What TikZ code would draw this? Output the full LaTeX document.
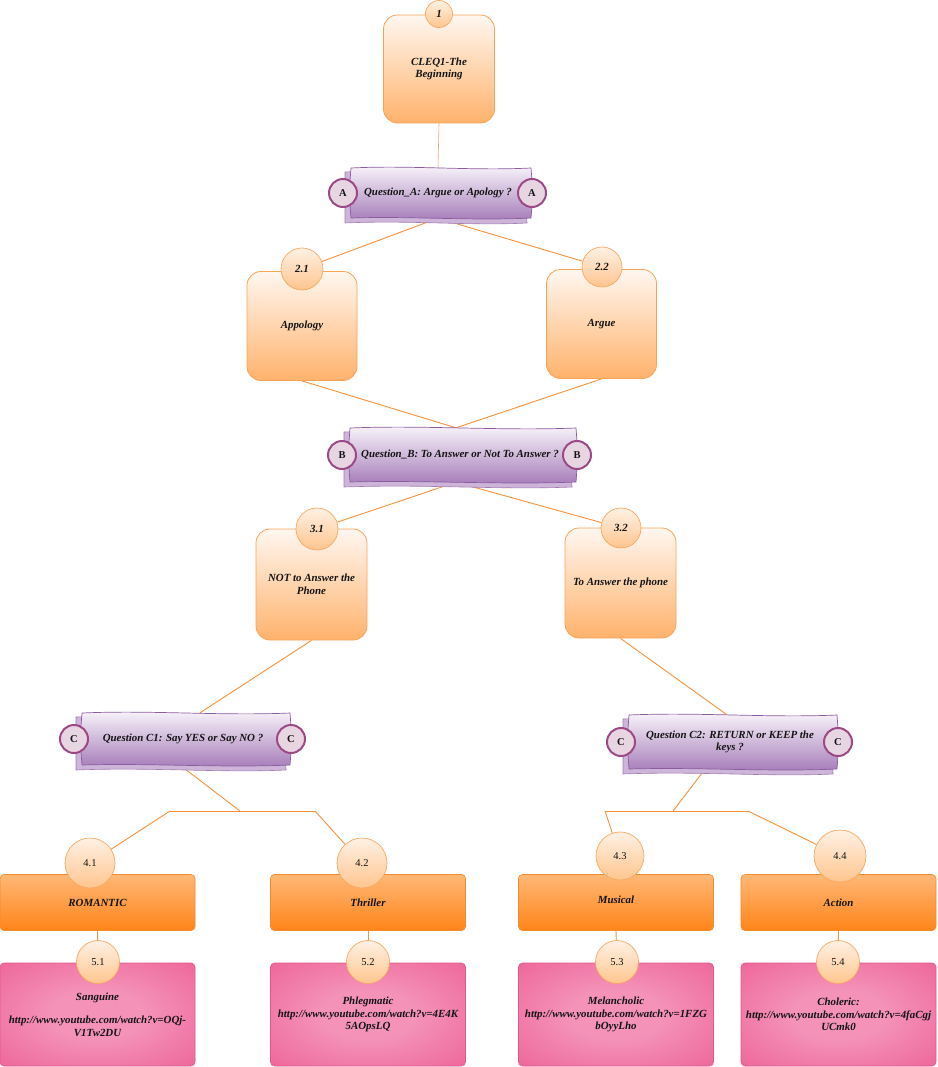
\documentclass[tikz,border=0pt]{standalone}
\usepackage{fontspec}
\setmainfont{Liberation Serif}
\usetikzlibrary{backgrounds}
\definecolor{oline}{HTML}{F7913A}
\definecolor{oline2}{HTML}{E9A878}
\definecolor{obxTop}{HTML}{FFF7F0}
\definecolor{obxBot}{HTML}{FFB26C}
\definecolor{obxDraw}{HTML}{F8A458}
\definecolor{circTop}{HTML}{FFF1E4}
\definecolor{circBot}{HTML}{FFC58E}
\definecolor{circDraw}{HTML}{F7A862}
\definecolor{ribTop}{HTML}{F9F5FB}
\definecolor{ribBot}{HTML}{A57BB8}
\definecolor{ribDraw}{HTML}{8C5CA0}
\definecolor{ribBack}{HTML}{CDB5D9}
\definecolor{lcFill}{HTML}{E8D5E2}
\definecolor{lcDraw}{HTML}{9B4A86}
\definecolor{gTop}{HTML}{FFB877}
\definecolor{gBot}{HTML}{FF8419}
\definecolor{gDraw}{HTML}{F48A2A}
\definecolor{pIn}{HTML}{F492B8}
\definecolor{pOut}{HTML}{E94A86}
\definecolor{pDraw}{HTML}{E2578E}
\definecolor{txt}{HTML}{141414}
\pgfdeclareradialshading{pinkglow}{\pgfpoint{0bp}{0bp}}{color(0bp)=(pIn); color(12bp)=(pIn); color(52bp)=(pOut); color(75bp)=(pOut)}
\newcommand\qribbon[7]{%
 \begin{scope}[shift={(#2,#3)}]
  \path[ribback] ({-#4-6},{-#5+4}) .. controls ({-#4/3},{-#5+1}) and ({#4/3},{-#5+7}) .. ({#4-6},{-#5+4}) -- ({#4-4},{#5+5}) .. controls ({#4/3},{#5+8}) and ({-#4/3},{#5+2}) .. ({-#4-6},{#5+5}) -- cycle;
  \path[ribfront] ({-#4},{-#5}) .. controls ({-#4/3},{-#5-3}) and ({#4/3},{-#5+3}) .. ({#4},{-#5}) .. controls ({#4+2},0) .. ({#4},{#5}) .. controls ({#4/3},{#5+3}) and ({-#4/3},{#5-2}) .. ({-#4},{#5}) .. controls ({-#4-2},0) .. cycle;
 \end{scope}
 \node[qtext, minimum width=2*#4, minimum height=2*#5] (#1) at (#2,#3) {#6};
 \node[lcirc] (#1l) at ({#2-#4-8},#3) {#7};
 \node[lcirc] (#1r) at ({#2+#4+1},#3) {#7};
}
\begin{document}
\begin{tikzpicture}[x=1pt,y=-1pt,
  every node/.style={font=\fontsize{10.9}{12.5}\selectfont\bfseries\itshape, text=txt},
  obox/.style={draw=obxDraw, line width=0.8pt, rounded corners=14pt, top color=obxTop, bottom color=obxBot, align=center, inner sep=2pt},
  ocirc/.style={circle, draw=circDraw, line width=0.7pt, top color=circTop, bottom color=circBot, inner sep=0pt},
  ribback/.style={draw=ribDraw!80, line width=0.6pt, fill=ribBack},
  ribfront/.style={draw=ribDraw, line width=0.7pt, top color=ribTop, bottom color=ribBot},
  qtext/.style={align=center, inner sep=0pt, xshift=-3pt},
  lcirc/.style={circle, draw=lcDraw, line width=2pt, fill=lcFill, minimum size=28pt, inner sep=0pt, font=\fontsize{10.5}{12}\selectfont\bfseries},
  gbox/.style={draw=gDraw, line width=0.6pt, rounded corners=4pt, top color=gTop, bottom color=gBot, minimum width=195pt, minimum height=56pt, inner sep=0pt, align=center},
  pbox/.style={draw=pDraw, line width=0.6pt, rounded corners=4pt, shading=pinkglow, minimum width=195pt, minimum height=103pt, inner sep=0pt, align=center},
  numc/.style={ocirc, font=\fontsize{10.5}{12}\selectfont},
  conn/.style={draw=oline, line width=0.9pt}
]
\useasboundingbox (0,0) rectangle (937,1067);
% level 1
\node[obox, minimum width=111pt, minimum height=108pt] (b1) at (439,69) {CLEQ1-The\\Beginning};
\node[ocirc, minimum size=27pt] (c1) at (439,14) {1};
% question A
\qribbon{qA}{441}{193}{90}{25}{Question\_A: Argue or Apology ?}{A}
% level 2
\node[obox, minimum width=110pt, minimum height=109pt] (b21) at (302,326) {Appology};
\node[ocirc, minimum size=42pt] (c21) at (302,269) {2.1};
\node[obox, minimum width=110pt, minimum height=109pt] (b22) at (601.5,324) {Argue};
\node[ocirc, minimum size=40pt] (c22) at (602,267) {2.2};
% question B
\qribbon{qB}{463}{455}{113}{27}{Question\_B: To Answer or Not To Answer ?}{B}
% level 3
\node[obox, minimum width=111pt, minimum height=111pt] (b31) at (311.5,584.5) {NOT to Answer the\\Phone};
\node[ocirc, minimum size=42pt] (c31) at (317,529) {3.1};
\node[obox, minimum width=111pt, minimum height=110pt] (b32) at (620.5,583) {To Answer the phone};
\node[ocirc, minimum size=40pt] (c32) at (621,528) {3.2};
% questions C
\qribbon{qC1}{186}{739}{104}{26}{\raisebox{-5pt}{Question C1: Say YES or Say NO ?}}{C}
\qribbon{qC2}{733}{742}{104}{27}{Question C2: RETURN or KEEP the\\keys ?}{C}
% junctions
\coordinate (j1) at (240,811);
\coordinate (e1l) at (170,811);
\coordinate (e1r) at (315,811);
\coordinate (j2) at (673,811);
\coordinate (e2l) at (605,811);
\coordinate (e2r) at (748,811);
% level 4
\node[gbox] (b41) at (97.5,902.5) {ROMANTIC};
\node[gbox] (b42) at (368,902.5) {Thriller};
\node[gbox] (b43) at (616,902.5) {\raisebox{6pt}{Musical}};
\node[gbox] (b44) at (838.5,902.5) {Action};
\node[numc, minimum size=50pt] (c41) at (90,863) {4.1};
\node[numc, minimum size=50pt] (c42) at (362,863) {4.2};
\node[numc, minimum size=48pt] (c43) at (620,856) {4.3};
\node[numc, minimum size=52pt] (c44) at (840,856) {4.4};
% level 5
\node[pbox] (b51) at (97.5,1014.5) {Sanguine\\[11pt]http://www.youtube.com/watch?v=OQj-\\V1Tw2DU};
\node[pbox] (b52) at (368,1014.5) {Phlegmatic\\http://www.youtube.com/watch?v=4E4K\\5AOpsLQ};
\node[pbox] (b53) at (616,1014.5) {Melancholic\\http://www.youtube.com/watch?v=1FZG\\bOyyLho};
\node[pbox] (b54) at (838.5,1014.5) {Choleric:\\http://www.youtube.com/watch?v=4faCgj\\UCmk0};
\node[numc, minimum size=43pt] (c51) at (98,962) {5.1};
\node[numc, minimum size=43pt] (c52) at (368,962) {5.2};
\node[numc, minimum size=43pt] (c53) at (617,962) {5.3};
\node[numc, minimum size=43pt] (c54) at (838,962) {5.4};
% connectors
\begin{scope}[on background layer]
\draw[draw=oline2, line width=0.6pt] (b1.south) -- (qA.north);
\draw[conn] (qA.south) -- (c21);
\draw[conn] (qA.south) -- (c22);
\draw[conn] (b21.south) -- ([xshift=-4pt]qB.north);
\draw[conn] (b22.south) -- ([xshift=-4pt]qB.north);
\draw[conn] ([xshift=-4pt]qB.south) -- (c31);
\draw[conn] ([xshift=-4pt]qB.south) -- (c32);
\draw[conn] (b31.south) -- ([xshift=17pt]qC1.north);
\draw[conn] (b32.south) -- ([xshift=-3pt]qC2.north);
\draw[conn] ([xshift=-3pt]qC1.south) -- (j1);
\draw[conn] (e1l) -- (e1r);
\draw[conn] (e1l) -- (c41);
\draw[conn] (e1r) -- (c42);
\draw[conn] ([xshift=-25pt]qC2.south) -- (j2);
\draw[conn] (e2l) -- (e2r);
\draw[conn] (e2l) -- (c43);
\draw[conn] (e2r) -- (c44);
\draw[conn] (b41.south) -- (c51);
\draw[conn] (b42.south) -- (c52);
\draw[conn] (b43.south) -- (c53);
\draw[conn] (b44.south) -- (c54);
\end{scope}
\end{tikzpicture}
\end{document}
